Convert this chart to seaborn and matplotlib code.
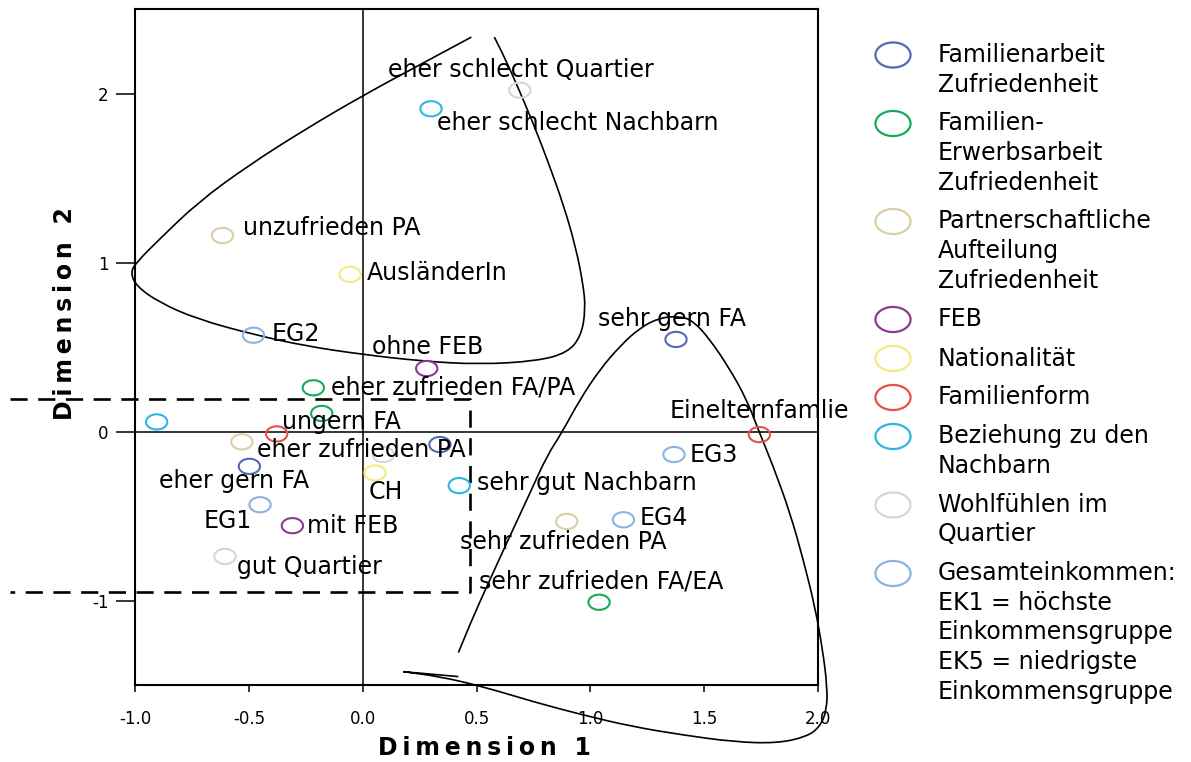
import numpy as np
import pandas as pd
import matplotlib
matplotlib.use("Agg")
import matplotlib.pyplot as plt
from matplotlib.path import Path
from matplotlib.patches import PathPatch
import seaborn as sns

# =====================================
# Data
# =====================================

gruppen = [
    "Familienarbeit\nZufriedenheit",
    "Familien-\nErwerbsarbeit\nZufriedenheit",
    "Partnerschaftliche\nAufteilung\nZufriedenheit",
    "FEB",
    "Nationalität",
    "Familienform",
    "Beziehung zu den\nNachbarn",
    "Wohlfühlen im\nQuartier",
    "Gesamteinkommen:\nEK1 = höchste\nEinkommensgruppe\nEK5 = niedrigste\nEinkommensgruppe",
]
farben = ["#4f6bb5", "#17a85a", "#d9d0a8", "#8b3a8f", "#f2ec80",
          "#e5504a", "#2db6e2", "#d6d6d6", "#8cb3e0"]

# point coordinates and group index
dim1 = [0.69, 0.30, -0.616, -0.056, -0.48, 0.281, -0.217, 1.376, -0.18,
        -0.905, -0.378, -0.531, -0.498, 0.09, 0.054, 0.339, 0.424, -0.451,
        -0.309, -0.605, 1.367, 1.742, 1.145, 0.896, 1.038]
dim2 = [2.02, 1.91, 1.16, 0.93, 0.57, 0.373, 0.259, 0.545, 0.107,
        0.057, -0.014, -0.061, -0.206, -0.136, -0.245, -0.077, -0.32, -0.433,
        -0.557, -0.739, -0.136, -0.018, -0.522, -0.532, -1.01]
gruppe_idx = [7, 6, 2, 4, 8, 3, 1, 0, 1,
              6, 5, 2, 0, 7, 4, 0, 6, 8,
              3, 7, 8, 5, 8, 2, 1]

# point labels (text, left x, centre y)
label_text = ["eher schlecht Quartier", "eher schlecht Nachbarn", "unzufrieden PA",
              "AusländerIn", "EG2", "ohne FEB", "eher zufrieden FA/PA", "sehr gern FA",
              "ungern FA", "eher zufrieden PA", "eher gern FA", "CH", "EG1", "mit FEB",
              "gut Quartier", "sehr gut Nachbarn", "EG3", "Einelternfamlie", "EG4",
              "sehr zufrieden PA", "sehr zufrieden FA/EA"]
label_x = [0.111, 0.326, -0.525, 0.019, -0.40, 0.041, -0.139, 1.034,
           -0.354, -0.463, -0.894, 0.027, -0.697, -0.245,
           -0.552, 0.502, 1.437, 1.35, 1.218, 0.427, 0.511]
label_y = [2.14, 1.826, 1.203, 0.937, 0.575, 0.498, 0.261, 0.664,
           0.059, -0.107, -0.29, -0.356, -0.528, -0.557,
           -0.80, -0.302, -0.136, 0.119, -0.51, -0.652, -0.889]

# hand drawn cluster outlines (control points)
loop1_x = [0.477, 0.257, 0.0, -0.251, -0.504, -0.724, -0.893, -0.995, -1.02, -0.995,
           -0.893, -0.724, -0.482, -0.251, 0.0, 0.257, 0.511, 0.765, 0.90, 0.959,
           0.979, 0.967, 0.934, 0.883, 0.815, 0.747, 0.672, 0.612, 0.578]
loop1_y = [2.334, 2.175, 1.988, 1.790, 1.573, 1.356, 1.138, 1.0, 0.941, 0.861,
           0.763, 0.664, 0.575, 0.506, 0.456, 0.417, 0.397, 0.417, 0.467, 0.565,
           0.723, 0.881, 1.098, 1.336, 1.593, 1.830, 2.067, 2.245, 2.334]
loop2_x = [0.420, 0.479, 0.545, 0.632, 0.735, 0.808, 0.874, 0.954, 1.042, 1.130,
           1.218, 1.306, 1.393, 1.452, 1.525, 1.613, 1.686, 1.737, 1.803, 1.877,
           1.935, 1.986, 2.020, 2.040, 2.038, 2.008, 1.950, 1.818, 1.628, 1.408,
           1.188, 0.969, 0.749, 0.530, 0.339, 0.178, 0.178, 0.420]
loop2_y = [-1.308, -1.114, -0.917, -0.660, -0.363, -0.146, -0.008, 0.190, 0.368, 0.506,
           0.615, 0.674, 0.683, 0.654, 0.545, 0.368, 0.190, 0.012, -0.206, -0.482,
           -0.759, -1.036, -1.292, -1.510, -1.648, -1.747, -1.806, -1.845, -1.836, -1.796,
           -1.747, -1.678, -1.599, -1.510, -1.450, -1.421, -1.421, -1.450]

# dashed box
box_x = [-1.55, 0.471, 0.471, -1.55]
box_y = [0.193, 0.193, -0.947, -0.947]

df = pd.DataFrame({
    "Dimension 1": dim1,
    "Dimension 2": dim2,
    "Gruppe": [gruppen[i] for i in gruppe_idx],
})

# =====================================
# Style
# =====================================

sns.set_style("white")
plt.rcParams["font.family"] = ["DejaVu Sans"]
plt.rcParams["axes.unicode_minus"] = False
plt.rcParams["text.color"] = "black"
plt.rcParams["axes.labelcolor"] = "black"
plt.rcParams["xtick.color"] = "black"
plt.rcParams["ytick.color"] = "black"

t = np.linspace(0, 2 * np.pi, 60)
ellipse_verts = np.column_stack([1.4 * np.cos(t), np.sin(t)])
ellipse = Path(ellipse_verts, closed=True)


def smooth_outline(xs, ys):
    # quadratic spline through midpoints of the sketched control points
    pts = np.column_stack([xs, ys])
    verts = [pts[0]]
    codes = [Path.MOVETO]
    for i in range(1, len(pts) - 1):
        mid = (pts[i] + pts[i + 1]) / 2
        if i == len(pts) - 2:
            mid = pts[i + 1]
        verts += [pts[i], mid]
        codes += [Path.CURVE3, Path.CURVE3]
    return Path(verts, codes)


fig = plt.figure(figsize=(11.91, 7.62), dpi=100)
ax = fig.add_axes([0.1134, 0.1010, 0.5735, 0.8871])

# =====================================
# Scatter
# =====================================

sns.scatterplot(
    data=df,
    x="Dimension 1",
    y="Dimension 2",
    hue="Gruppe",
    hue_order=gruppen,
    palette=farben,
    marker=ellipse,
    s=235,
    linewidth=1.5,
    legend=False,
    ax=ax,
    zorder=3,
)
pts = ax.collections[0]
pts.set_edgecolors(pts.get_facecolors())
pts.set_facecolors("none")

for txt, lx, ly in zip(label_text, label_x, label_y):
    ax.text(lx, ly, txt, fontsize=17, ha="left", va="center", zorder=4)

# reference lines
ax.axhline(0, color="black", lw=1.1, zorder=1)
ax.axvline(0, color="black", lw=1.1, zorder=1)

# outlines
for lx, ly in [(loop1_x, loop1_y), (loop2_x, loop2_y)]:
    ax.add_patch(PathPatch(smooth_outline(lx, ly), facecolor="none",
                           edgecolor="black", lw=1.2, clip_on=False, zorder=2))
ax.plot(box_x, box_y, color="black", lw=1.9, ls=(0, (6.5, 4)),
        clip_on=False, zorder=2)

# =====================================
# Axes
# =====================================

ax.set_xlim(-1.0, 2.0)
ax.set_ylim(-1.5, 2.5)
ax.set_xticks([-1.0, -0.5, 0.0, 0.5, 1.0, 1.5, 2.0])
ax.set_xticklabels(["-1.0", "-0.5", "0.0", "0.5", "1.0", "1.5", "2.0"])
ax.set_yticks([-1, 0, 1, 2])
ax.set_yticklabels(["-1", "0", "1", "2"])
ax.tick_params(axis="x", direction="out", length=5, width=1.1, pad=13,
               labelsize=12, color="black", bottom=True)
ax.tick_params(axis="y", direction="out", length=14, width=1.1, pad=5,
               labelsize=12, color="black", left=True)
for sp in ax.spines.values():
    sp.set_visible(True)
    sp.set_color("black")
    sp.set_linewidth(1.5)

ax.set_xlabel("\u2009".join("Dimension 1"), fontsize=17, fontweight="bold")
ax.set_ylabel("\u2009".join("Dimension 2"), fontsize=17, fontweight="bold")
ax.xaxis.label.set_va("center")
ax.yaxis.label.set_va("center")
ax.xaxis.set_label_coords(0.511, -0.093)
ax.yaxis.set_label_coords(-0.1025, 0.550)

# =====================================
# Legend (drawn by hand, marker aligned with first line)
# =====================================

leg = fig.add_axes([0, 0, 1, 1])
leg.set_xlim(0, 1191)
leg.set_ylim(762, 0)
leg.axis("off")

y = 55.0
step = 29.5
gap = 9.5
for name, col in zip(gruppen, farben):
    leg.scatter([893], [y], marker=ellipse, s=640, facecolors="none",
                edgecolors=col, linewidths=1.6)
    lines = name.split("\n")
    for k, line in enumerate(lines):
        leg.text(938, y + k * step, line, fontsize=17, ha="left", va="center")
    y += len(lines) * step + gap

fig.savefig("out.png", dpi=100)
plt.close(fig)
